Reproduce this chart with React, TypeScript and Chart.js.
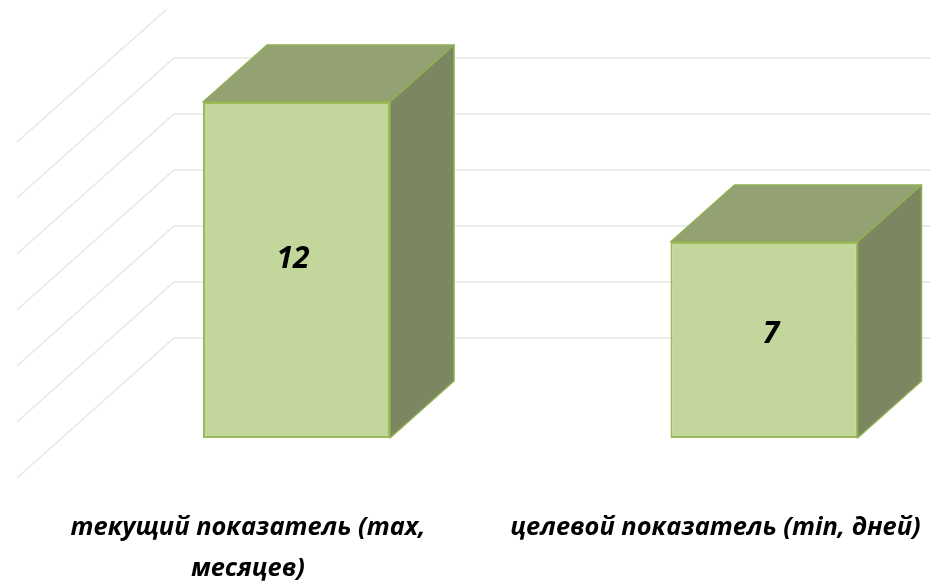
import React, { useEffect, useRef } from "react";
import { Chart, registerables } from "chart.js";

Chart.register(...registerables);

const categories = [["текущий показатель (max,", "месяцев)"], "целевой показатель (min, дней)"];
const values = [12, 7];
const valueLabels = ["12", "7"];
const yTicks = { min: 0, max: 12, stepSize: 2 };

const FONT = '"Open Sans", "Noto Sans", sans-serif';
const DEPTH_X = 64;
const DEPTH_Y = 57;
const WALL_UP = 100;
const WALL_X = 174;
const FRONT_X = 17;
const FLOOR_DY = 140;
const LABEL_NUDGE_X = [-3.5, 7];

const bar3d = {
  id: "bar3d",
  beforeDatasetsDraw(chart: any) {
    const { ctx, scales } = chart;
    const y = scales.y;
    ctx.save();
    ctx.strokeStyle = "#E6E6E6";
    ctx.lineWidth = 1.3;
    y.ticks.forEach((t: any) => {
      const py = y.getPixelForValue(t.value) - WALL_UP;
      const isTop = t.value === yTicks.max;
      ctx.beginPath();
      ctx.moveTo(FRONT_X, py + FLOOR_DY);
      if (isTop) {
        ctx.lineTo(WALL_X - 7, py + 7);
      } else {
        ctx.lineTo(WALL_X, py);
        ctx.lineTo(chart.width, py);
      }
      ctx.stroke();
    });
    const meta = chart.getDatasetMeta(0);
    meta.data.forEach((b: any) => {
      const l = b.x - b.width / 2;
      const r = b.x + b.width / 2;
      const t = b.y;
      const bt = b.base;
      ctx.lineWidth = 1.5;
      ctx.strokeStyle = "#8FB050";
      ctx.lineJoin = "round";
      ctx.fillStyle = "#94A273";
      ctx.beginPath();
      ctx.moveTo(l, t);
      ctx.lineTo(l + DEPTH_X, t - DEPTH_Y);
      ctx.lineTo(r + DEPTH_X, t - DEPTH_Y);
      ctx.lineTo(r, t);
      ctx.closePath();
      ctx.fill();
      ctx.stroke();
      ctx.fillStyle = "#7C8661";
      ctx.beginPath();
      ctx.moveTo(r, t);
      ctx.lineTo(r + DEPTH_X, t - DEPTH_Y);
      ctx.lineTo(r + DEPTH_X, bt - DEPTH_Y);
      ctx.lineTo(r, bt);
      ctx.closePath();
      ctx.fill();
      ctx.stroke();
    });
    ctx.restore();
  },
  afterDatasetsDraw(chart: any) {
    const { ctx } = chart;
    const meta = chart.getDatasetMeta(0);
    ctx.save();
    ctx.fillStyle = "#000";
    ctx.font = `italic bold 30px ${FONT}`;
    ctx.textAlign = "center";
    ctx.textBaseline = "middle";
    meta.data.forEach((b: any, i: number) => {
      const py = b.base + (b.y - b.base) * 0.53;
      ctx.fillText(valueLabels[i], b.x + LABEL_NUDGE_X[i], py);
    });
    ctx.restore();
  },
};

export default function App() {
  const ref = useRef<HTMLCanvasElement>(null);
  useEffect(() => {
    document.body.style.margin = "0";
    const chart = new Chart(ref.current!, {
      type: "bar",
      data: {
        labels: categories as any,
        datasets: [
          {
            data: values,
            backgroundColor: "#C3D69B",
            borderColor: "#9BBB59",
            borderWidth: 2,
            borderSkipped: false,
            categoryPercentage: 0.4,
            barPercentage: 1,
          },
        ],
      },
      options: {
        responsive: false,
        animation: false,
        layout: { padding: { left: 62.75, right: 2.25, top: 102, bottom: 0 } },
        plugins: { legend: { display: false }, tooltip: { enabled: false } },
        scales: {
          x: {
            grid: { display: false },
            border: { display: false },
            afterFit(scale: any) {
              scale.height = 145;
              scale.paddingLeft = 0;
              scale.paddingRight = 0;
            },
            ticks: {
              autoSkip: false,
              maxRotation: 0,
              minRotation: 0,
              labelOffset: -48.5,
              padding: 61,
              color: "#000",
              font: { family: FONT, size: 25.4, style: "italic", weight: "bold", lineHeight: 1.62 },
            },
          },
          y: {
            display: false,
            min: yTicks.min,
            max: yTicks.max,
            ticks: { stepSize: yTicks.stepSize },
          },
        },
      },
      plugins: [bar3d],
    } as any);
    return () => chart.destroy();
  }, []);
  return (
    <div style={{ position: "fixed", left: 0, top: 0, width: 930, height: 583, overflow: "hidden", background: "#fff" }}>
      <canvas ref={ref} width={1000} height={583} style={{ display: "block" }} />
    </div>
  );
}
